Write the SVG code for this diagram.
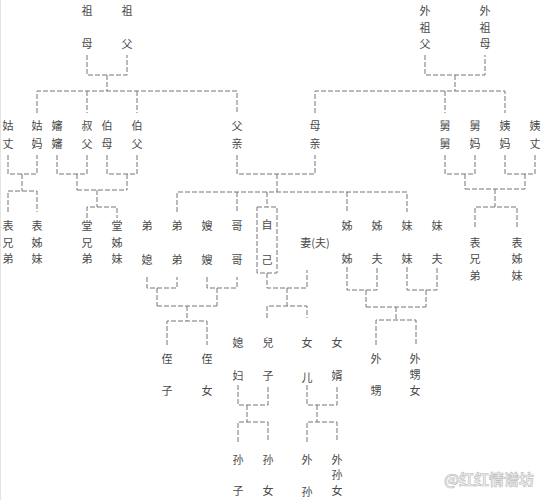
<svg xmlns="http://www.w3.org/2000/svg" width="545" height="500" viewBox="0 0 545 500">
<style>
.t{font-family:"Noto Sans CJK SC","Noto Sans CJK TC",sans-serif;font-size:11px;fill:#4a4a4a;text-anchor:middle;dominant-baseline:central}
.l{stroke:#777;stroke-width:1;fill:none;stroke-dasharray:5 2}
.wm{font-family:"Noto Sans CJK SC",sans-serif;font-size:15px;fill:#eeeeee;stroke:#bdbdbd;stroke-width:0.6;font-weight:bold}
</style>
<rect width="545" height="500" fill="#fff"/>
<line x1="0.5" y1="0" x2="0.5" y2="500" stroke="#e4e4e4"/>
<g id="connectors">
<path class="l" d="M87,55V75H127V55M107,75V91M37,113V91H237V113M87,91V113M137,91V113"/>
<path class="l" d="M425,55V75H485V55M455,75V91M315,113V91H505V113M445,91V113"/>
<path class="l" d="M8,155V174H37V155M22,174V191M8,212V191H37V212"/>
<path class="l" d="M57,155V174H87V155M107,155V174H137V155M77,174V190M127,174V190M77,190H127M97,190V207M87,218V207H117V218"/>
<path class="l" d="M237,155V174H315V155M277,174V192M177,212V192H407V212M237,192V212M267,192V207M347,192V212"/>
<rect class="l" x="257" y="207" width="20" height="66"/>
<path class="l" d="M267,273V288H307V270M287,288V306M267,318V306H307V318"/>
<path class="l" d="M147,277V288H177V277M157,288V306M207,277V288H237V277M217,288V306M157,306H217M187,306V321M167,345V321H207V345"/>
<path class="l" d="M347,267V290H377V267M366,290V307M407,267V290H437V267M426,290V307M366,307H426M396,307V320M376,345V320H416V345"/>
<path class="l" d="M445,155V174H475V155M465,174V189M505,155V174H535V155M525,174V189M465,189H525M495,189V207M475,227V207H517V227"/>
<path class="l" d="M238,385V405H268V385M247,405V422M238,442V422H268V442"/>
<path class="l" d="M307,385V405H337V385M317,405V422M307,442V422H337V442"/>
</g>
<g id="zumu"><text class="t" x="87" y="10">祖</text><text class="t" x="87" y="43">母</text></g>
<g id="zufu"><text class="t" x="127" y="10">祖</text><text class="t" x="127" y="43">父</text></g>
<g id="waizufu"><text class="t" x="425" y="10">外</text><text class="t" x="425" y="27">祖</text><text class="t" x="425" y="43">父</text></g>
<g id="waizumu"><text class="t" x="485" y="10">外</text><text class="t" x="485" y="27">祖</text><text class="t" x="485" y="43">母</text></g>
<g id="guzhang"><text class="t" x="8" y="125">姑</text><text class="t" x="8" y="143">丈</text></g>
<g id="guma"><text class="t" x="37" y="125">姑</text><text class="t" x="37" y="143">妈</text></g>
<g id="shenshen"><text class="t" x="57" y="125">嬸</text><text class="t" x="57" y="143">嬸</text></g>
<g id="shufu"><text class="t" x="87" y="125">叔</text><text class="t" x="87" y="143">父</text></g>
<g id="bomu"><text class="t" x="107" y="125">伯</text><text class="t" x="107" y="143">母</text></g>
<g id="bofu"><text class="t" x="137" y="125">伯</text><text class="t" x="137" y="143">父</text></g>
<g id="fuqin"><text class="t" x="237" y="125">父</text><text class="t" x="237" y="143">亲</text></g>
<g id="muqin"><text class="t" x="315" y="125">母</text><text class="t" x="315" y="143">亲</text></g>
<g id="jiujiu"><text class="t" x="445" y="125">舅</text><text class="t" x="445" y="143">舅</text></g>
<g id="jiuma"><text class="t" x="475" y="125">舅</text><text class="t" x="475" y="143">妈</text></g>
<g id="yima"><text class="t" x="505" y="125">姨</text><text class="t" x="505" y="143">妈</text></g>
<g id="yizhang"><text class="t" x="535" y="125">姨</text><text class="t" x="535" y="143">丈</text></g>
<g id="biaoxiongdi-l"><text class="t" x="8" y="225">表</text><text class="t" x="8" y="242">兄</text><text class="t" x="8" y="258">弟</text></g>
<g id="biaozimei-l"><text class="t" x="37" y="225">表</text><text class="t" x="37" y="242">姊</text><text class="t" x="37" y="258">妹</text></g>
<g id="tangxiongdi"><text class="t" x="87" y="225">堂</text><text class="t" x="87" y="242">兄</text><text class="t" x="87" y="258">弟</text></g>
<g id="tangzimei"><text class="t" x="117" y="225">堂</text><text class="t" x="117" y="242">姊</text><text class="t" x="117" y="258">妹</text></g>
<g id="dixi"><text class="t" x="147" y="225">弟</text><text class="t" x="147" y="259">媳</text></g>
<g id="didi"><text class="t" x="177" y="225">弟</text><text class="t" x="177" y="259">弟</text></g>
<g id="saosao"><text class="t" x="207" y="225">嫂</text><text class="t" x="207" y="259">嫂</text></g>
<g id="gege"><text class="t" x="237" y="225">哥</text><text class="t" x="237" y="259">哥</text></g>
<g id="ziji"><text class="t" x="267" y="224">自</text><text class="t" x="267" y="259">己</text></g>
<g id="qifu"><text class="t" x="315" y="242">妻(夫)</text></g>
<g id="jiejie"><text class="t" x="347" y="225">姊</text><text class="t" x="347" y="258">姊</text></g>
<g id="jiefu"><text class="t" x="377" y="225">姊</text><text class="t" x="377" y="258">夫</text></g>
<g id="meimei"><text class="t" x="407" y="225">妹</text><text class="t" x="407" y="258">妹</text></g>
<g id="meifu"><text class="t" x="437" y="225">妹</text><text class="t" x="437" y="258">夫</text></g>
<g id="biaoxiongdi-r"><text class="t" x="475" y="242">表</text><text class="t" x="475" y="258">兄</text><text class="t" x="475" y="275">弟</text></g>
<g id="biaozimei-r"><text class="t" x="517" y="242">表</text><text class="t" x="517" y="258">姊</text><text class="t" x="517" y="275">妹</text></g>
<g id="zhizi"><text class="t" x="167" y="358">侄</text><text class="t" x="167" y="390">子</text></g>
<g id="zhinv"><text class="t" x="207" y="358">侄</text><text class="t" x="207" y="390">女</text></g>
<g id="xifu"><text class="t" x="238" y="342">媳</text><text class="t" x="238" y="375">妇</text></g>
<g id="erzi"><text class="t" x="268" y="342">兒</text><text class="t" x="268" y="375">子</text></g>
<g id="nver"><text class="t" x="307" y="342">女</text><text class="t" x="307" y="377">儿</text></g>
<g id="nvxu"><text class="t" x="337" y="342">女</text><text class="t" x="337" y="375">婿</text></g>
<g id="waisheng"><text class="t" x="376" y="358">外</text><text class="t" x="376" y="390">甥</text></g>
<g id="waishengnv"><text class="t" x="415" y="358">外</text><text class="t" x="415" y="374">甥</text><text class="t" x="415" y="390">女</text></g>
<g id="sunzi"><text class="t" x="238" y="459">孙</text><text class="t" x="238" y="490">子</text></g>
<g id="sunnv"><text class="t" x="268" y="459">孙</text><text class="t" x="268" y="490">女</text></g>
<g id="waisun"><text class="t" x="307" y="459">外</text><text class="t" x="307" y="491">孙</text></g>
<g id="waisunnv"><text class="t" x="337" y="459">外</text><text class="t" x="337" y="474">孙</text><text class="t" x="337" y="490">女</text></g>
<text class="wm" x="444" y="485">@红红情谱坊</text>
</svg>
